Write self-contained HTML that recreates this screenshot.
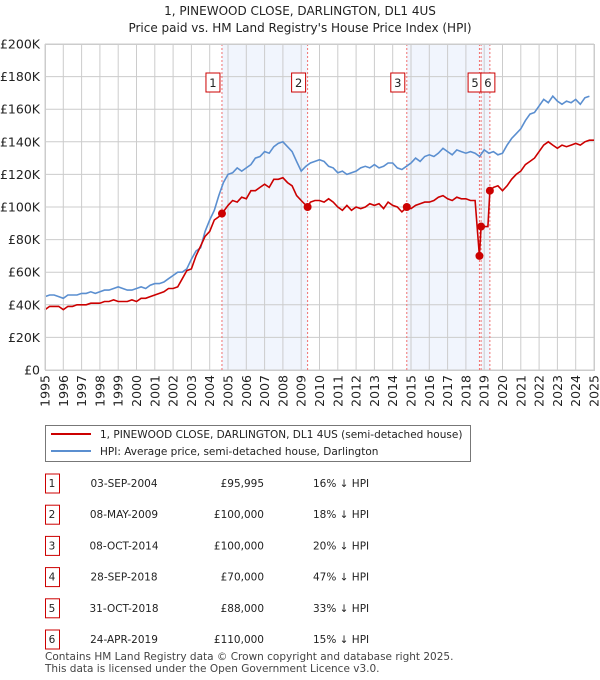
<!DOCTYPE html>
<html><head><meta charset="utf-8"><style>
body{margin:0;background:#fff;font-family:"DejaVu Sans","Liberation Sans",sans-serif;}
svg{display:block}
text{font-family:"DejaVu Sans","Liberation Sans",sans-serif;}
</style></head><body>
<svg id="c" width="600" height="680" viewBox="0 0 600 680">
<text x="300" y="15" text-anchor="middle" font-size="12" fill="#222">1, PINEWOOD CLOSE, DARLINGTON, DL1 4US</text>
<text x="300" y="32" text-anchor="middle" font-size="12" fill="#222">Price paid vs. HM Land Registry's House Price Index (HPI)</text>
<g id="plot"></g>
<g>
<rect x="45.5" y="425.5" width="425" height="36" fill="#fff" stroke="#777"/>
<line x1="51" y1="434" x2="91" y2="434" stroke="#cc0000" stroke-width="2"/>
<text x="100" y="438" font-size="10.5" fill="#222">1, PINEWOOD CLOSE, DARLINGTON, DL1 4US (semi-detached house)</text>
<line x1="51" y1="451" x2="91" y2="451" stroke="#5b8fd0" stroke-width="2"/>
<text x="100" y="455" font-size="10.5" fill="#222">HPI: Average price, semi-detached house, Darlington</text>
</g>
<g id="tbl"></g>
<text x="45" y="660" font-size="10.5" fill="#444">Contains HM Land Registry data © Crown copyright and database right 2025.</text>
<text x="45" y="672" font-size="10.5" fill="#444">This data is licensed under the Open Government Licence v3.0.</text>
</svg>
<script>
const yTicks=[0,20,40,60,80,100,120,140,160,180,200];
const yTickLabels=["£0","£20K","£40K","£60K","£80K","£100K","£120K","£140K","£160K","£180K","£200K"];
const xYears=[1995,1996,1997,1998,1999,2000,2001,2002,2003,2004,2005,2006,2007,2008,2009,2010,2011,2012,2013,2014,2015,2016,2017,2018,2019,2020,2021,2022,2023,2024,2025];
const hpiValues=[45,46,46,45,44,46,46,46,47,47,48,47,48,49,49,50,51,50,49,49,50,51,50,52,53,53,54,56,58,60,60,62,68,73,75,85,92,98,107,115,120,121,124,122,124,126,130,131,134,133,137,139,140,137,134,128,122,125,127,128,129,128,125,124,121,122,120,121,122,124,125,124,126,124,125,127,127,124,123,125,127,130,128,131,132,131,133,136,134,132,135,134,133,134,133,131,135,133,134,132,133,138,142,145,148,153,157,158,162,166,164,168,165,163,165,164,166,163,167,168];
const priceTimes=[1995,1995.25,1995.5,1995.75,1996,1996.25,1996.5,1996.75,1997,1997.25,1997.5,1997.75,1998,1998.25,1998.5,1998.75,1999,1999.25,1999.5,1999.75,2000,2000.25,2000.5,2000.75,2001,2001.25,2001.5,2001.75,2002,2002.25,2002.5,2002.75,2003,2003.25,2003.5,2003.75,2004,2004.25,2004.5,2004.67,2005,2005.25,2005.5,2005.75,2006,2006.25,2006.5,2006.75,2007,2007.25,2007.5,2007.75,2008,2008.25,2008.5,2008.75,2009,2009.35,2009.5,2009.75,2010,2010.25,2010.5,2010.75,2011,2011.25,2011.5,2011.75,2012,2012.25,2012.5,2012.75,2013,2013.25,2013.5,2013.75,2014,2014.25,2014.5,2014.77,2015,2015.25,2015.5,2015.75,2016,2016.25,2016.5,2016.75,2017,2017.25,2017.5,2017.75,2018,2018.25,2018.5,2018.74,2018.83,2019.2,2019.31,2019.5,2019.75,2020,2020.25,2020.5,2020.75,2021,2021.25,2021.5,2021.75,2022,2022.25,2022.5,2022.75,2023,2023.25,2023.5,2023.75,2024,2024.25,2024.5,2024.75,2025];
const priceValues=[37,39,39,39,37,39,39,40,40,40,41,41,41,42,42,43,42,42,42,43,42,44,44,45,46,47,48,50,50,51,56,61,62,70,76,82,85,92,94,96,101,104,103,106,105,110,110,112,114,112,117,117,118,115,113,107,104,100,103,104,104,103,105,103,100,98,101,98,100,99,100,102,101,102,99,103,101,100,97,100,99,101,102,103,103,104,106,107,105,104,106,105,105,104,104,70,88,88,110,112,113,110,113,117,120,122,126,128,130,134,138,140,138,136,138,137,138,139,138,140,141,141];
const saleIds=["1","2","3","4","5","6"];
const saleTimes=[2004.67,2009.35,2014.77,2018.74,2018.83,2019.31];
const saleValues=[95.995,100,100,70,88,110];
const saleDates=["03-SEP-2004","08-MAY-2009","08-OCT-2014","28-SEP-2018","31-OCT-2018","24-APR-2019"];
const salePrices=["£95,995","£100,000","£100,000","£70,000","£88,000","£110,000"];
const salePcts=["16% ↓ HPI","18% ↓ HPI","20% ↓ HPI","47% ↓ HPI","33% ↓ HPI","15% ↓ HPI"];

const L=45,R=594,T=44,B=370;
const X=t=>L+(t-1995)*(R-L)/30;
const Y=v=>B-v*(B-T)/200;
const NS="http://www.w3.org/2000/svg";
const plot=document.getElementById('plot');
function mk(tag,attrs,parent){const e=document.createElementNS(NS,tag);for(const k in attrs)e.setAttribute(k,attrs[k]);(parent||plot).appendChild(e);return e;}
for(let i=0;i<saleTimes.length;i+=2){
 const r=mk('rect',{x:X(saleTimes[i]),y:T,width:X(saleTimes[i+1])-X(saleTimes[i]),height:B-T,fill:'#eef3fc',opacity:0.8});
 
 
}
yTicks.forEach((v,i)=>{
 const g=mk('line',{x1:L,x2:R,y1:Y(v),y2:Y(v),stroke:'#ccc','stroke-width':1});
 
 
 const t=mk('text',{x:L-5,y:Y(v)+4.5,'text-anchor':'end','font-size':12.5,fill:'#222'});
 t.textContent=yTickLabels[i];
 
 
});
xYears.forEach(yr=>{
 const g=mk('line',{x1:X(yr),x2:X(yr),y1:T,y2:B,stroke:'#ccc','stroke-width':1});
 
 
 const x=X(yr)+4.5,y=375;
 const t=mk('text',{x:x,y:y,'text-anchor':'end','font-size':12.5,fill:'#222',transform:'rotate(-90 '+x+' '+y+')'});
 t.textContent=yr;
 
 
});
saleTimes.forEach((t,i)=>{
 const l=mk('line',{x1:X(t),x2:X(t),y1:T,y2:B,stroke:'#f07070','stroke-width':1,'stroke-dasharray':'2,2'});
 
 
});
saleTimes.forEach((t,i)=>{
 if(i===3)return;
 const cx=i===4?X(t)-6:(i===5?X(t)-2:X(t)-9);
 const r=mk('rect',{x:cx-7,y:73,width:14,height:19,fill:'#fff',stroke:'#cc0000','stroke-width':1});
 
 
 const tx=mk('text',{x:cx,y:87,'text-anchor':'middle','font-size':11.5,fill:'#222'});
 tx.textContent=saleIds[i];
 
 
});
let d='';hpiValues.forEach((v,i)=>{d+=(i?'L':'M')+X(1995+i*0.25).toFixed(1)+','+Y(v).toFixed(1);});
const hp=mk('path',{d:d,fill:'none',stroke:'#5b8fd0','stroke-width':1.6});


d='';priceValues.forEach((v,i)=>{d+=(i?'L':'M')+X(priceTimes[i]).toFixed(1)+','+Y(v).toFixed(1);});
const pp=mk('path',{d:d,fill:'none',stroke:'#cc0000','stroke-width':1.6});


saleTimes.forEach((t,i)=>{
 const c=mk('circle',{cx:X(t),cy:Y(saleValues[i]),r:4,fill:'#cc0000'});
 
 
});
mk('rect',{x:L+0.5,y:T+0.5,width:R-L,height:B-T,fill:'none',stroke:'#ccc'});
const tbl=document.getElementById('tbl');
saleIds.forEach((id,i)=>{
 const y=487+i*31.2;
 const r=mk('rect',{x:45.5,y:y-13,width:14,height:19,fill:'#fff',stroke:'#cc0000'},tbl);
 
 
 const cols=[[52,'middle',id,'table-sale-id'],[124,'middle',saleDates[i],'table-sale-date'],[264,'end',salePrices[i],'table-sale-price'],[313,'start',salePcts[i],'table-sale-hpi-diff']];
 cols.forEach(c=>{
  const t=mk('text',{x:c[0],y:y,'text-anchor':c[1],'font-size':10.5,fill:'#222'},tbl);
  t.textContent=c[2];
  
  
 });
});
</script>
</body></html>
